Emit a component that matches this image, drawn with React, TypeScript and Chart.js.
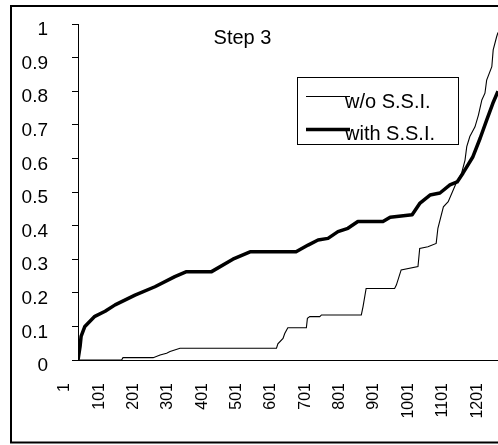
import React, { useEffect, useRef } from 'react';
import { Chart, registerables } from 'chart.js';

Chart.register(...registerables);

const titleText = 'Step 3';
const seriesLabels = ['w/o S.S.I.', 'with S.S.I.'];

const xTickValues = [1, 101, 201, 301, 401, 501, 601, 701, 801, 901, 1001, 1101, 1201];
const xTickLabels = ['1', '101', '201', '301', '401', '501', '601', '701', '801', '901', '1001', '1101', '1201'];
const yTickValues = [0, 0.1, 0.2, 0.3, 0.4, 0.5, 0.6, 0.7, 0.8, 0.9, 1];
const yTickLabels = ['0', '0.1', '0.2', '0.3', '0.4', '0.5', '0.6', '0.7', '0.8', '0.9', '1'];
const xMin = 1;
const xMax = 1224;

// w/o S.S.I. (thin line) – breakpoints
const withoutX = [1, 128, 132, 220, 240, 259, 269, 298, 579, 583, 598, 603, 612, 666, 669, 676, 705, 710, 826, 831, 840, 923, 928, 942, 991, 996, 1020, 1044, 1049, 1065, 1079, 1102, 1118, 1128, 1133, 1142, 1157, 1167, 1177, 1186, 1191, 1206, 1210, 1220, 1224];
const withoutY = [0, 0, 0.007, 0.007, 0.015, 0.02, 0.025, 0.035, 0.035, 0.048, 0.064, 0.079, 0.096, 0.096, 0.124, 0.129, 0.129, 0.134, 0.134, 0.159, 0.213, 0.213, 0.223, 0.268, 0.278, 0.332, 0.337, 0.347, 0.392, 0.456, 0.471, 0.526, 0.556, 0.595, 0.635, 0.665, 0.694, 0.729, 0.774, 0.794, 0.833, 0.873, 0.923, 0.962, 0.975];

// with S.S.I. (thick line)
const withX = [1, 7, 10, 21, 50, 80, 109, 167, 225, 283, 317, 390, 452, 502, 636, 671, 700, 729, 758, 787, 816, 889, 910, 974, 997, 1026, 1055, 1084, 1105, 1122, 1151, 1172, 1191, 1209, 1224];
const withY = [0, 0.04, 0.07, 0.1, 0.13, 0.145, 0.164, 0.193, 0.218, 0.248, 0.263, 0.263, 0.3, 0.322, 0.322, 0.342, 0.357, 0.362, 0.382, 0.392, 0.412, 0.412, 0.425, 0.432, 0.467, 0.491, 0.497, 0.521, 0.53, 0.556, 0.605, 0.66, 0.714, 0.764, 0.8];

const FONT_FAMILY = '"Liberation Sans", Arial, Helvetica, sans-serif';
const Y_FONT_SIZE = 19;
const X_FONT_SIZE = 16;
const TEXT_FONT_SIZE = 20;

export default function App() {
  const ref = useRef<HTMLCanvasElement>(null);

  useEffect(() => {
    const canvas = ref.current;
    if (!canvas) return;

    const frame = {
      id: 'frame',
      beforeDraw(chart: any) {
        const c = chart.ctx;
        c.save();
        c.fillStyle = '#ffffff';
        c.fillRect(0, 0, chart.width, chart.height);
        c.strokeStyle = '#000000';
        c.lineWidth = 2;
        c.strokeRect(11, 6, 600, 436.5);
        c.restore();
      },
    };

    const overlay = {
      id: 'overlay',
      afterDraw(chart: any) {
        const c = chart.ctx;
        c.save();
        c.fillStyle = '#000';
        c.font = `${TEXT_FONT_SIZE}px ${FONT_FAMILY}`;
        c.textAlign = 'center';
        c.textBaseline = 'alphabetic';
        c.fillText(titleText, 242.5, 43.5);

        // legend box
        c.fillStyle = '#fff';
        c.fillRect(297.5, 77.5, 161, 67);
        c.strokeStyle = '#000';
        c.lineWidth = 1;
        c.strokeRect(297.5, 77.5, 161, 67);
        const ds = chart.data.datasets;
        const rows = [96.5, 129.5];
        const baselines = [108, 140];
        ds.forEach((d: any, i: number) => {
          c.beginPath();
          c.lineWidth = d.borderWidth;
          c.strokeStyle = d.borderColor;
          c.moveTo(306, rows[i]);
          c.lineTo(350, rows[i]);
          c.stroke();
          c.fillStyle = '#000';
          c.textAlign = 'left';
          c.textBaseline = 'alphabetic';
          c.fillText(d.label, 345, baselines[i]);
        });
        c.restore();
      },
    };

    const chart = new Chart(canvas, {
      type: 'line',
      data: {
        datasets: [
          {
            label: seriesLabels[0],
            data: withoutX.map((x, i) => ({ x, y: withoutY[i] })),
            borderColor: '#000000',
            borderWidth: 1.1,
            pointRadius: 0,
            tension: 0,
            fill: false,
          },
          {
            label: seriesLabels[1],
            data: withX.map((x, i) => ({ x, y: withY[i] })),
            borderColor: '#000000',
            borderWidth: 3.5,
            pointRadius: 0,
            tension: 0,
            fill: false,
            borderJoinStyle: 'round',
          },
        ],
      },
      options: {
        responsive: false,
        animation: false,
        devicePixelRatio: 1,
        layout: { padding: { top: 24, left: 0, right: 0, bottom: 0 } },
        plugins: {
          legend: { display: false },
          tooltip: { enabled: false },
          title: { display: false },
        },
        scales: {
          x: {
            type: 'linear',
            min: xMin,
            max: xMax,
            afterBuildTicks: (s: any) => {
              s.ticks = xTickValues.map((v) => ({ value: v }));
            },
            afterFit: (s: any) => {
              s.height = 85;
              s.paddingLeft = 0;
              s.paddingRight = 0;
            },
            grid: { display: false, drawTicks: false },
            border: { display: true, color: '#000', width: 1 },
            ticks: {
              autoSkip: false,
              maxRotation: 90,
              minRotation: 90,
              padding: 23,
              labelOffset: -13,
              color: '#000',
              font: { family: FONT_FAMILY, size: X_FONT_SIZE },
              callback: (_v: any, i: number) => xTickLabels[i],
            },
          },
          y: {
            type: 'linear',
            min: 0,
            max: 1,
            afterBuildTicks: (s: any) => {
              s.ticks = yTickValues.map((v) => ({ value: v }));
            },
            afterFit: (s: any) => {
              s.width = 78;
              s.paddingTop = 0;
              s.paddingBottom = 0;
            },
            grid: {
              display: true,
              drawOnChartArea: false,
              drawTicks: true,
              tickLength: 6,
              color: '#000',
              lineWidth: 1,
            },
            border: { display: true, color: '#000', width: 1 },
            ticks: {
              padding: 24,
              labelOffset: 6,
              color: '#000',
              font: { family: FONT_FAMILY, size: Y_FONT_SIZE },
              callback: (_v: any, i: number) => yTickLabels[i],
            },
          },
        },
      },
      plugins: [frame, overlay],
    } as any);

    return () => chart.destroy();
  }, []);

  return (
    <div style={{ position: 'absolute', left: 0, top: 0, width: 498, height: 445, overflow: 'hidden' }}>
      <canvas ref={ref} width={498} height={445} style={{ display: 'block', width: 498, height: 445 }} />
    </div>
  );
}
